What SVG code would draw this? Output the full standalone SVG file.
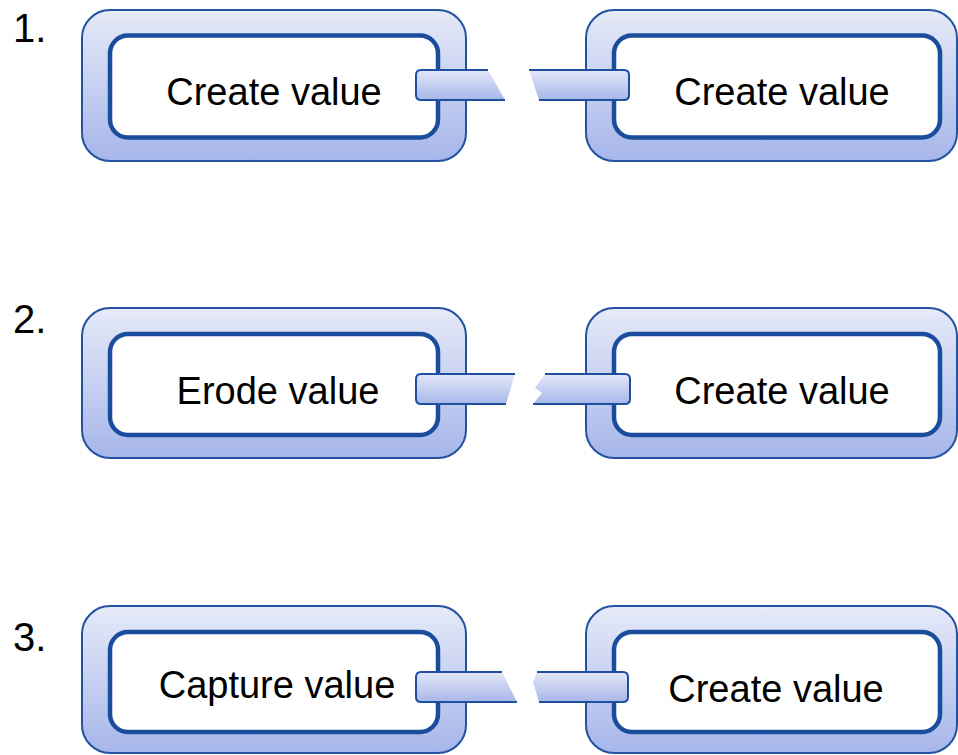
<svg xmlns="http://www.w3.org/2000/svg" width="958" height="755" viewBox="0 0 958 755">
  <defs>
    <linearGradient id="outerGrad" x1="0" y1="0" x2="0" y2="1">
      <stop offset="0" stop-color="#e6eaf8"/>
      <stop offset="1" stop-color="#a6b6ea"/>
    </linearGradient>
    <linearGradient id="tabGrad" x1="0" y1="0" x2="0" y2="1">
      <stop offset="0" stop-color="#e3e7f8"/>
      <stop offset="1" stop-color="#a8b7e9"/>
    </linearGradient>
  </defs>
  <style>
    .outer { fill: url(#outerGrad); stroke: #2353a0; stroke-width: 2; }
    .inner { fill: #ffffff; stroke: #1b4d9d; stroke-width: 4.5; }
    .tabfill { fill: url(#tabGrad); stroke: none; }
    .tabline { fill: none; stroke: #1f50a0; stroke-width: 2; stroke-linejoin: round; }
    .label { font-family: "Liberation Sans", Arial, sans-serif; font-size: 38px; fill: #000000; text-anchor: middle; }
    .num { font-family: "Liberation Sans", Arial, sans-serif; font-size: 40px; fill: #000000; }
  </style>

  <g id="numbers">
    <text class="num" x="13" y="42">1.</text>
    <text class="num" x="13" y="333">2.</text>
    <text class="num" x="13" y="651">3.</text>
  </g>

  <g id="row1-left">
    <rect class="outer" x="82" y="10" width="384" height="151" rx="28"/>
    <rect class="inner" x="110" y="35.5" width="328" height="102" rx="18"/>
    <text class="label" x="274" y="105">Create value</text>
  </g>
  <g id="row1-right">
    <rect class="outer" x="586" y="10" width="371" height="151" rx="28"/>
    <rect class="inner" x="614" y="35.5" width="326" height="102" rx="18"/>
    <text class="label" x="782" y="105">Create value</text>
  </g>

  <g id="row2-left">
    <rect class="outer" x="82" y="308" width="384" height="150" rx="28"/>
    <rect class="inner" x="110" y="334" width="328" height="101" rx="18"/>
    <text class="label" x="278" y="404">Erode value</text>
  </g>
  <g id="row2-right">
    <rect class="outer" x="586" y="308" width="371" height="150" rx="28"/>
    <rect class="inner" x="614" y="334" width="326" height="101" rx="18"/>
    <text class="label" x="782" y="404">Create value</text>
  </g>

  <g id="row3-left">
    <rect class="outer" x="82" y="606" width="384" height="147" rx="28"/>
    <rect class="inner" x="110" y="632" width="328" height="100" rx="18"/>
    <text class="label" x="277" y="698">Capture value</text>
  </g>
  <g id="row3-right">
    <rect class="outer" x="586" y="606" width="371" height="147" rx="28"/>
    <rect class="inner" x="614" y="632" width="326" height="100" rx="18"/>
    <text class="label" x="776" y="702">Create value</text>
  </g>

  <g id="connectors">
    <path class="tabfill" d="M421 70 H488 L505 100 H421 Q416 100 416 95 V75 Q416 70 421 70 Z"/>
    <path class="tabline" d="M488 70 H421 Q416 70 416 75 V95 Q416 100 421 100 H505"/>
    <path class="tabfill" d="M529 70 H624 Q629 70 629 75 V95 Q629 100 624 100 H539 Z"/>
    <path class="tabline" d="M529 70 H624 Q629 70 629 75 V95 Q629 100 624 100 H539"/>

    <path class="tabfill" d="M421 374 H515 L506 404 H421 Q416 404 416 399 V379 Q416 374 421 374 Z"/>
    <path class="tabline" d="M515 374 H421 Q416 374 416 379 V399 Q416 404 421 404 H506"/>
    <path class="tabfill" d="M545 374 H625 Q630 374 630 379 V399 Q630 404 625 404 H533 L542 393 L535 388 Z"/>
    <path class="tabline" d="M545 374 H625 Q630 374 630 379 V399 Q630 404 625 404 H533"/>

    <path class="tabfill" d="M421 672 H502 L517 702 H421 Q416 702 416 697 V677 Q416 672 421 672 Z"/>
    <path class="tabline" d="M502 672 H421 Q416 672 416 677 V697 Q416 702 421 702 H517"/>
    <path class="tabfill" d="M537 672 H623 Q628 672 628 677 V697 Q628 702 623 702 H539 L533 682 Z"/>
    <path class="tabline" d="M537 672 H623 Q628 672 628 677 V697 Q628 702 623 702 H539"/>
  </g>
</svg>
